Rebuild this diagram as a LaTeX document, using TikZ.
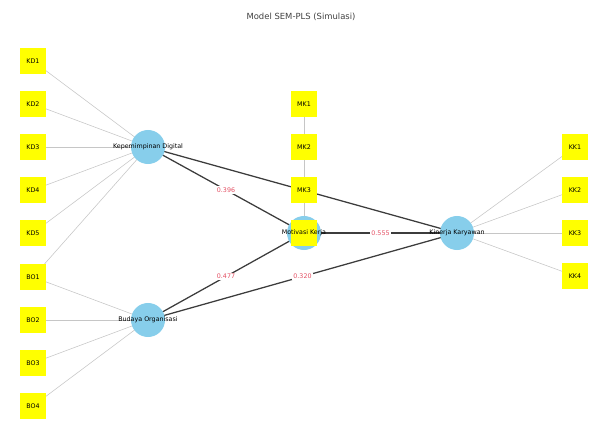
\documentclass[tikz,border=0pt]{standalone}
\usepackage{fontspec}
\setmainfont{DejaVu Sans}
\usetikzlibrary{positioning, backgrounds}
\definecolor{latentblue}{RGB}{135, 206, 235}
\definecolor{itemyellow}{RGB}{255, 255, 0}
\definecolor{coefred}{RGB}{228, 80, 100}
\definecolor{pathgray}{RGB}{60, 60, 60}
\tikzstyle{latent} = [
    circle, 
    minimum size=0.85cm, 
    inner sep=0pt, 
    fill=latentblue
]
\tikzstyle{lname} = [
    inner sep=0pt, 
    font=\fontsize{4.5}{5}\selectfont
]
\tikzstyle{item} = [
    rectangle, 
    minimum size=0.65cm, 
    inner sep=0pt, 
    fill=itemyellow, 
    font=\fontsize{4.5}{5}\selectfont
]
\tikzstyle{inner} = [
    line width=0.9pt, 
    color=pathgray
]
\tikzstyle{outer} = [
    line width=0.4pt, 
    color=gray!45
]
\tikzstyle{coef} = [
    fill=white, 
    inner sep=1pt, 
    text=coefred, 
    font=\fontsize{4.5}{5}\selectfont
]

\begin{document}
\begin{tikzpicture}[x=0.025cm, y=-0.025cm]
        \useasboundingbox (0, 0) rectangle (601, 421);
        \node[font=\fontsize{6}{7}\selectfont, text=black!75] (title) at (301, 17) {Model SEM-PLS (Simulasi)};

        % Latent variables
        \node[latent] (kd) at (148, 147) {};
        \node[latent] (bo) at (148, 320) {};
        \node[latent] (mk) at (304, 233) {};
        \node[latent] (kk) at (457, 233) {};

        % Indicators - Kepemimpinan Digital
        \node[item] (kd1) at (33, 61) {KD1};
        \node[item] (kd2) at (33, 104) {KD2};
        \node[item] (kd3) at (33, 147) {KD3};
        \node[item] (kd4) at (33, 190) {KD4};
        \node[item] (kd5) at (33, 233) {KD5};
        \node[item] (kd6) at (33, 277) {KD6};

        % Indicators - Budaya Organisasi
        \node[item] (bo1) at (33, 277) {BO1};
        \node[item] (bo2) at (33, 320) {BO2};
        \node[item] (bo3) at (33, 363) {BO3};
        \node[item] (bo4) at (33, 406) {BO4};

        % Indicators - Motivasi Kerja
        \node[item] (mk1) at (304, 104) {MK1};
        \node[item] (mk2) at (304, 147) {MK2};
        \node[item] (mk3) at (304, 190) {MK3};
        \node[item] (mk4) at (304, 233) {};

        % Indicators - Kinerja Karyawan
        \node[item] (kk1) at (575, 147) {KK1};
        \node[item] (kk2) at (575, 190) {KK2};
        \node[item] (kk3) at (575, 233) {KK3};
        \node[item] (kk4) at (575, 276) {KK4};

        % Latent names
        \node[lname] (kdname) at (kd) {Kepemimpinan Digital};
        \node[lname] (boname) at (bo) {Budaya Organisasi};
        \node[lname] (mkname) at (mk) {Motivasi Kerja};
        \node[lname] (kkname) at (kk) {Kinerja Karyawan};

        \begin{scope}[on background layer]
        % Outer model
        \draw[outer] (kd.center) -- (kd1.center);
        \draw[outer] (kd.center) -- (kd2.center);
        \draw[outer] (kd.center) -- (kd3.center);
        \draw[outer] (kd.center) -- (kd4.center);
        \draw[outer] (kd.center) -- (kd5.center);
        \draw[outer] (kd.center) -- (kd6.center);
        \draw[outer] (bo.center) -- (bo1.center);
        \draw[outer] (bo.center) -- (bo2.center);
        \draw[outer] (bo.center) -- (bo3.center);
        \draw[outer] (bo.center) -- (bo4.center);
        \draw[outer] (mk.center) -- (mk1.center);
        \draw[outer] (mk.center) -- (mk2.center);
        \draw[outer] (mk.center) -- (mk3.center);
        \draw[outer] (kk.center) -- (kk1.center);
        \draw[outer] (kk.center) -- (kk2.center);
        \draw[outer] (kk.center) -- (kk3.center);
        \draw[outer] (kk.center) -- (kk4.center);

        % Inner model
        \draw[inner] (kd.center) -- node[coef]{0.396} (mk.center);
        \draw[inner] (kd.center) -- (kk.center);
        \draw[inner] (bo.center) -- node[coef]{0.477} (mk.center);
        \draw[inner] (bo.center) -- node[coef]{0.320} (kk.center);
        \draw[inner] (mk.center) -- node[coef]{0.555} (kk.center);
        \end{scope}
    \end{tikzpicture}
\end{document}
